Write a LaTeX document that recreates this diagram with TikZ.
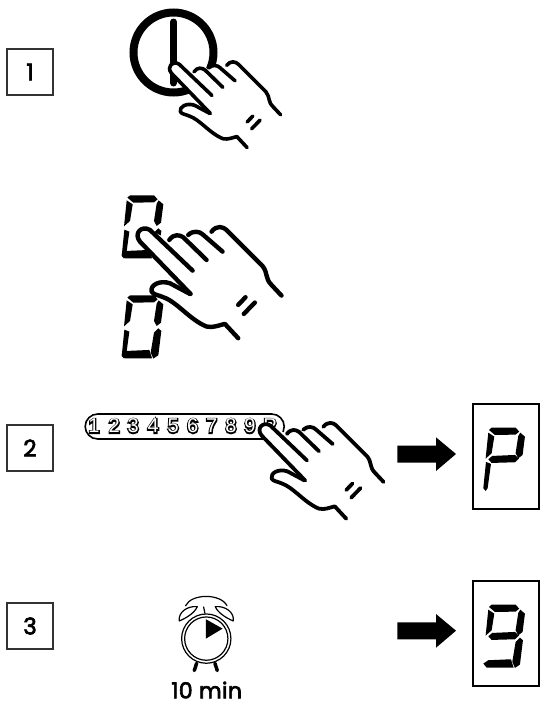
\documentclass[tikz,border=0pt]{standalone}
\usepackage{fontspec}
\setmainfont{Poppins}
\newfontfamily\labelfont[FakeBold=3,LetterSpace=2]{Poppins}
\newfontfamily\keyfat[FakeBold=12]{Liberation Sans}
\newfontfamily\keythin{Liberation Sans}
\newcommand{\keyglyph}[1]{\makebox[0pt][c]{\keyfat\fontsize{20}{20}\selectfont #1}\makebox[0pt][c]{\color{white}\keythin\fontsize{20}{20}\selectfont #1}}
% one hand, in its own units, origin at the finger tip
\newcommand{\drawhand}[4]{%
\begin{scope}[shift={(#1,#2)},scale=#3,shift={(-112,-160)},line width=#4pt,line cap=round,line join=round]
\fill[white] (272,342) -- (120,185) .. controls (100,160) and (125,135) .. (150,150) -- (208,180)
 .. controls (222,160) and (240,165) .. (265,165) .. controls (285,150) and (300,150) .. (335,155)
 .. controls (350,135) and (370,140) .. (380,150) -- (488,258) .. controls (505,280) and (495,295) .. (515,315)
 -- (545,347) -- (415,475) -- (375,432) .. controls (360,435) and (340,445) .. (320,440)
 .. controls (270,420) and (230,365) .. (190,352) .. controls (175,345) and (160,345) .. (155,335)
 .. controls (150,315) and (180,300) .. (210,310) -- cycle;
\draw (272,342) -- (120,185) .. controls (100,160) and (125,135) .. (150,150) -- (278,272);
\draw (208,180) .. controls (222,160) and (240,165) .. (250,172) -- (320,240);
\draw (265,165) .. controls (280,150) and (300,155) .. (308,163) -- (368,215);
\draw (335,155) .. controls (350,135) and (370,140) .. (380,150) -- (488,258) .. controls (505,280) and (495,295) .. (515,315) -- (545,347);
\draw (270,342) -- (210,310) .. controls (180,300) and (150,315) .. (155,335) .. controls (160,345) and (175,345) .. (190,352)
 .. controls (230,365) and (270,420) .. (320,440) .. controls (340,445) and (360,435) .. (375,432) -- (415,475);
\draw (415,375) -- (437,352);
\draw (432,402) -- (465,368);
\end{scope}}
% seven-segment parts, local origin at the digit's top-left
\newcommand{\sA}{\fill (17,8) -- (25,1) -- (97,1) -- (108,13) -- (97,22) -- (35,23) -- cycle;}
\newcommand{\sB}{\fill (111,16) -- (125,28) -- (118,83) -- (105,93) -- (97,78) -- (105,26) -- cycle;}
\newcommand{\sC}{\fill (110,100) -- (119,108) -- (110,181) -- (95,191) -- (87,173) -- (97,113) -- cycle;}
\newcommand{\sD}{\fill (0,178) -- (15,168) -- (83,165) -- (91,190) -- (10,190) -- cycle;}
\newcommand{\sE}{\fill (8,104) -- (23,110) -- (13,183) -- (7,191) -- (0,183) -- cycle;}
\newcommand{\sF}{\fill (15,16) -- (33,28) -- (25,78) -- (7,94) -- cycle;}
\newcommand{\sG}{\fill (27,86) -- (95,83) -- (107,94) -- (95,105) -- (25,107) -- (15,96) -- cycle;}
\tikzset{
 numbox/.style={draw=black!80,line width=1.3pt,minimum width=46pt,minimum height=46pt,inner sep=0pt,font=\labelfont\fontsize{23}{23}\selectfont},
 dispbox/.style={draw=black,line width=2pt},
 bigarrow/.style={fill=black}
}
\begin{document}
\begin{tikzpicture}[x=1pt,y=-1pt]
\useasboundingbox (0,0) rectangle (540,704);
\node[numbox] (n1) at (30,72) {1};
\node[numbox] (n2) at (30,448) {2};
\node[numbox] (n3) at (30,626) {3};
% power symbol
\draw[line width=8pt] (173.5,52.5) circle (40);
\draw[line width=7pt,line cap=round] (173.5,22) -- (173.5,83);
\drawhand{169.3}{66.7}{0.257}{3.6}
% digits and hand
\begin{scope}[shift={(121.7,195)},scale=0.333]\sA\sB\sC\sD\sE\sF\end{scope}
\begin{scope}[shift={(121.7,295)},scale=0.333]\sA\sB\sC\sD\sE\sF\end{scope}
\drawhand{137.3}{233.3}{0.333}{4.4}
% key strip
\node[draw=black,line width=1.6pt,rounded corners=12.5pt,minimum width=199pt,minimum height=25pt,inner sep=0pt] (strip) at (184.7,426.5) {};
\foreach \k/\t/\x in {a/1/94,b/2/114.3,c/3/133.3,d/4/153.3,e/5/173.3,f/6/192.7,g/7/211.7,h/8/231,i/9/250,j/P/270}
  \node[inner sep=0pt] (key\k) at (\x,426) {\keyglyph{\t}};
\drawhand{259.3}{428.3}{0.287}{3.8}
% arrows
\fill[bigarrow] (397.3,445.7) -- (436,445.7) -- (436,437.3) -- (456,454) -- (436,471) -- (436,462.7) -- (397.3,462.7) -- cycle;
\fill[bigarrow] (397.3,622.4) -- (436,622.4) -- (436,614) -- (456,630.7) -- (436,647.7) -- (436,639.4) -- (397.3,639.4) -- cycle;
% displays
\draw[dispbox] (472.5,403.5) rectangle (539,509);
\draw[dispbox] (472.5,580.5) rectangle (539,686);
\begin{scope}[shift={(483.3,427.3)},scale=0.333]\sA\sB\sE\sF\sG\end{scope}
\begin{scope}[shift={(483.3,604.3)},scale=0.333]\sA\sB\sC\sD\sF\sG\end{scope}
% alarm clock
\begin{scope}[shift={(150,575)},scale=0.333,line width=1.2pt,line join=round,line cap=round]
\draw (169,191) circle (74);
\draw (169,191) circle (65);
\fill (168,133) -- (218,161) -- (168,191) -- cycle;
\draw (88,138) .. controls (84,112) and (112,92) .. (142,95) .. controls (135,112) and (112,128) .. (88,138) -- cycle;
\draw (250,138) .. controls (254,112) and (226,92) .. (196,95) .. controls (203,112) and (226,128) .. (250,138) -- cycle;
\draw (107,92) .. controls (125,55) and (212,55) .. (231,92);
\draw (161,96) -- (165,115);
\draw[line width=3.5pt] (140,265) -- (133,287);
\draw[line width=3.5pt] (195,265) -- (202,287);
\end{scope}
\node[inner sep=0pt,font=\labelfont\fontsize{22}{22}\selectfont] (lab) at (206.7,690) {10 min};
\end{tikzpicture}
\end{document}
